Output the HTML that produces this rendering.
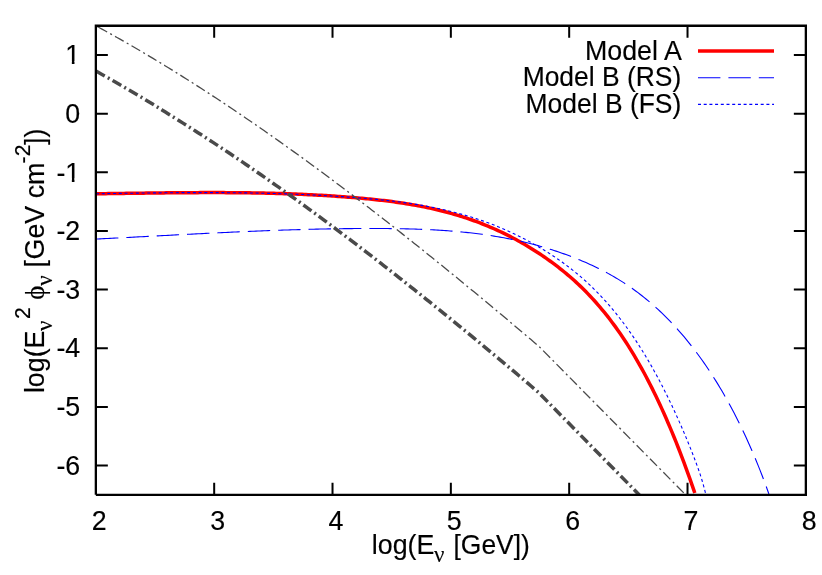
<!DOCTYPE html>
<html>
<head>
<meta charset="utf-8">
<title>plot</title>
<style>
html,body{margin:0;padding:0;background:#fff;}
body{width:822px;height:575px;overflow:hidden;}
svg{display:block;will-change:transform;}
text{font-family:"Liberation Sans",sans-serif;font-size:26.8px;fill:#000;stroke:#000;stroke-width:0.15px;}
.sym{font-family:"Liberation Serif",serif;stroke-width:0.15px;}
.s{font-size:21.2px;}
.n{font-size:23px;}
.b{font-size:26.45px;}
</style>
</head>
<body>
<svg width="822" height="575" viewBox="0 0 822 575">
<rect x="0" y="0" width="822" height="575" fill="#fff"/>
<defs><clipPath id="kp"><rect x="40" y="40.27" width="50" height="20.70"/><rect x="71.85" y="60.27" width="2.62" height="5"/></clipPath>
<clipPath id="km"><rect x="40" y="157.54" width="50" height="20.70"/><rect x="71.85" y="177.54" width="2.62" height="5"/></clipPath><clipPath id="c"><rect x="95.85" y="25.75" width="710.0" height="469.1"/></clipPath></defs>
<g fill="none" clip-path="url(#c)">
<path d="M96.00,193.75 L98.00,193.73 L100.00,193.70 L102.00,193.68 L104.00,193.66 L106.00,193.63 L108.00,193.61 L110.00,193.58 L112.00,193.56 L114.00,193.53 L116.00,193.50 L118.00,193.48 L120.00,193.45 L122.00,193.42 L124.00,193.40 L126.00,193.37 L128.00,193.34 L130.00,193.32 L132.00,193.29 L134.00,193.26 L136.00,193.24 L138.00,193.21 L140.00,193.18 L142.00,193.16 L144.00,193.13 L146.00,193.11 L148.00,193.08 L150.00,193.06 L152.00,193.03 L154.00,193.01 L156.00,192.98 L158.00,192.96 L160.00,192.94 L162.00,192.91 L164.00,192.89 L166.00,192.87 L168.00,192.85 L170.00,192.83 L172.00,192.81 L174.00,192.79 L176.00,192.77 L178.00,192.76 L180.00,192.74 L182.00,192.72 L184.00,192.71 L186.00,192.69 L188.00,192.68 L190.00,192.67 L192.00,192.66 L194.00,192.64 L196.00,192.64 L198.00,192.63 L200.00,192.62 L202.00,192.61 L204.00,192.61 L206.00,192.60 L208.00,192.60 L210.00,192.60 L212.00,192.60 L214.00,192.60 L216.00,192.60 L218.00,192.60 L220.00,192.61 L222.00,192.61 L224.00,192.62 L226.00,192.63 L228.00,192.64 L230.00,192.65 L232.00,192.67 L234.00,192.68 L236.00,192.70 L238.00,192.72 L240.00,192.74 L242.00,192.76 L244.00,192.78 L246.00,192.81 L248.00,192.84 L250.00,192.86 L252.00,192.89 L254.00,192.93 L256.00,192.96 L258.00,193.00 L260.00,193.04 L262.00,193.08 L264.00,193.12 L266.00,193.16 L268.00,193.21 L270.00,193.26 L272.00,193.31 L274.00,193.36 L276.00,193.42 L278.00,193.48 L280.00,193.53 L282.00,193.60 L284.00,193.66 L286.00,193.73 L288.00,193.80 L290.00,193.87 L292.00,193.94 L294.00,194.02 L296.00,194.10 L298.00,194.18 L300.00,194.26 L302.00,194.35 L304.00,194.44 L306.00,194.53 L308.00,194.63 L310.00,194.72 L312.00,194.82 L314.00,194.93 L316.00,195.03 L318.00,195.14 L320.00,195.25 L322.00,195.37 L324.00,195.48 L326.00,195.60 L328.00,195.73 L330.00,195.85 L332.00,195.98 L334.00,196.12 L336.00,196.25 L338.00,196.39 L340.00,196.53 L342.00,196.68 L344.00,196.82 L346.00,196.98 L348.00,197.13 L350.00,197.29 L352.00,197.45 L354.00,197.62 L356.00,197.78 L358.00,197.96 L360.00,198.13 L362.00,198.31 L364.00,198.49 L366.00,198.68 L368.00,198.88 L370.00,199.07 L372.00,199.27 L374.00,199.48 L376.00,199.69 L378.00,199.91 L380.00,200.14 L382.00,200.37 L384.00,200.60 L386.00,200.84 L388.00,201.09 L390.00,201.35 L392.00,201.61 L394.00,201.88 L396.00,202.15 L398.00,202.44 L400.00,202.73 L402.00,203.03 L404.00,203.34 L406.00,203.65 L408.00,203.98 L410.00,204.31 L412.00,204.65 L414.00,205.00 L416.00,205.36 L418.00,205.73 L420.00,206.11 L422.00,206.50 L424.00,206.90 L426.00,207.31 L428.00,207.73 L430.00,208.16 L432.00,208.60 L434.00,209.06 L436.00,209.52 L438.00,209.99 L440.00,210.48 L442.00,210.98 L444.00,211.49 L446.00,212.01 L448.00,212.55 L450.00,213.10 L452.00,213.66 L454.00,214.23 L456.00,214.82 L458.00,215.42 L460.00,216.03 L462.00,216.66 L464.00,217.30 L466.00,217.96 L468.00,218.63 L470.00,219.32 L472.00,220.02 L474.00,220.73 L476.00,221.46 L478.00,222.21 L480.00,222.97 L482.00,223.75 L484.00,224.54 L486.00,225.35 L488.00,226.18 L490.00,227.02 L492.00,227.88 L494.00,228.75 L496.00,229.65 L498.00,230.56 L500.00,231.49 L502.00,232.43 L504.00,233.40 L506.00,234.38 L508.00,235.38 L510.00,236.40 L512.00,237.44 L514.00,238.50 L516.00,239.57 L518.00,240.67 L520.00,241.78 L522.00,242.92 L524.00,244.07 L526.00,245.25 L528.00,246.44 L530.00,247.66 L532.00,248.90 L534.00,250.15 L536.00,251.43 L538.00,252.73 L540.00,254.05 L542.00,255.40 L544.00,256.76 L546.00,258.15 L548.00,259.56 L550.00,260.99 L552.00,262.45 L554.00,263.93 L556.00,265.44 L558.00,266.97 L560.00,268.53 L562.00,270.12 L564.00,271.74 L566.00,273.38 L568.00,275.06 L570.00,276.78 L572.00,278.53 L574.00,280.31 L576.00,282.13 L578.00,283.98 L580.00,285.87 L582.00,287.81 L584.00,289.78 L586.00,291.79 L588.00,293.85 L590.00,295.95 L592.00,298.09 L594.00,300.28 L596.00,302.51 L598.00,304.79 L600.00,307.13 L602.00,309.51 L604.00,311.94 L606.00,314.42 L608.00,316.95 L610.00,319.54 L612.00,322.19 L614.00,324.89 L616.00,327.64 L618.00,330.46 L620.00,333.33 L622.00,336.26 L624.00,339.26 L626.00,342.31 L628.00,345.43 L630.00,348.61 L632.00,351.86 L634.00,355.18 L636.00,358.56 L638.00,362.01 L640.00,365.53 L642.00,369.12 L644.00,372.78 L646.00,376.51 L648.00,380.32 L650.00,384.20 L652.00,388.16 L654.00,392.20 L656.00,396.31 L658.00,400.50 L660.00,404.77 L662.00,409.12 L664.00,413.56 L666.00,418.08 L668.00,422.68 L670.00,427.36 L672.00,432.13 L674.00,436.99 L676.00,441.94 L678.00,446.98 L680.00,452.10 L682.00,457.32 L684.00,462.63 L686.00,468.04 L688.00,473.54 L690.00,479.13 L692.00,484.82 L694.00,490.61 L694.80,492.95" stroke="#ff0000" stroke-width="3.5" stroke-linejoin="round"/>
<path d="M96.00,239.06 L98.00,238.97 L100.00,238.87 L102.00,238.77 L104.00,238.67 L106.00,238.56 L108.00,238.46 L110.00,238.36 L112.00,238.26 L114.00,238.16 L116.00,238.05 L118.00,237.95 L120.00,237.85 L122.00,237.75 L124.00,237.64 L126.00,237.54 L128.00,237.43 L130.00,237.33 L132.00,237.22 L134.00,237.12 L136.00,237.01 L138.00,236.91 L140.00,236.80 L142.00,236.70 L144.00,236.59 L146.00,236.49 L148.00,236.38 L150.00,236.28 L152.00,236.17 L154.00,236.07 L156.00,235.96 L158.00,235.86 L160.00,235.75 L162.00,235.65 L164.00,235.54 L166.00,235.44 L168.00,235.33 L170.00,235.23 L172.00,235.12 L174.00,235.02 L176.00,234.91 L178.00,234.81 L180.00,234.71 L182.00,234.60 L184.00,234.50 L186.00,234.40 L188.00,234.29 L190.00,234.19 L192.00,234.09 L194.00,233.99 L196.00,233.89 L198.00,233.79 L200.00,233.69 L202.00,233.59 L204.00,233.49 L206.00,233.39 L208.00,233.29 L210.00,233.19 L212.00,233.09 L214.00,233.00 L216.00,232.90 L218.00,232.80 L220.00,232.71 L222.00,232.61 L224.00,232.52 L226.00,232.43 L228.00,232.33 L230.00,232.24 L232.00,232.15 L234.00,232.06 L236.00,231.97 L238.00,231.88 L240.00,231.79 L242.00,231.70 L244.00,231.62 L246.00,231.53 L248.00,231.45 L250.00,231.36 L252.00,231.28 L254.00,231.19 L256.00,231.11 L258.00,231.03 L260.00,230.95 L262.00,230.87 L264.00,230.79 L266.00,230.72 L268.00,230.64 L270.00,230.57 L272.00,230.49 L274.00,230.42 L276.00,230.35 L278.00,230.28 L280.00,230.21 L282.00,230.14 L284.00,230.07 L286.00,230.01 L288.00,229.94 L290.00,229.88 L292.00,229.81 L294.00,229.75 L296.00,229.69 L298.00,229.63 L300.00,229.58 L302.00,229.52 L304.00,229.46 L306.00,229.41 L308.00,229.36 L310.00,229.31 L312.00,229.26 L314.00,229.21 L316.00,229.16 L318.00,229.12 L320.00,229.07 L322.00,229.03 L324.00,228.99 L326.00,228.95 L328.00,228.91 L330.00,228.88 L332.00,228.84 L334.00,228.81 L336.00,228.78 L338.00,228.75 L340.00,228.72 L342.00,228.69 L344.00,228.67 L346.00,228.64 L348.00,228.62 L350.00,228.60 L352.00,228.58 L354.00,228.57 L356.00,228.55 L358.00,228.54 L360.00,228.53 L362.00,228.52 L364.00,228.51 L366.00,228.51 L368.00,228.50 L370.00,228.50 L372.00,228.50 L374.00,228.50 L376.00,228.51 L378.00,228.51 L380.00,228.52 L382.00,228.53 L384.00,228.54 L386.00,228.56 L388.00,228.57 L390.00,228.59 L392.00,228.61 L394.00,228.64 L396.00,228.67 L398.00,228.70 L400.00,228.73 L402.00,228.77 L404.00,228.81 L406.00,228.85 L408.00,228.90 L410.00,228.95 L412.00,229.00 L414.00,229.06 L416.00,229.12 L418.00,229.19 L420.00,229.26 L422.00,229.34 L424.00,229.42 L426.00,229.50 L428.00,229.59 L430.00,229.69 L432.00,229.79 L434.00,229.89 L436.00,230.00 L438.00,230.12 L440.00,230.24 L442.00,230.37 L444.00,230.50 L446.00,230.64 L448.00,230.79 L450.00,230.94 L452.00,231.10 L454.00,231.26 L456.00,231.43 L458.00,231.61 L460.00,231.79 L462.00,231.99 L464.00,232.18 L466.00,232.39 L468.00,232.60 L470.00,232.82 L472.00,233.05 L474.00,233.29 L476.00,233.53 L478.00,233.78 L480.00,234.04 L482.00,234.31 L484.00,234.59 L486.00,234.87 L488.00,235.16 L490.00,235.46 L492.00,235.78 L494.00,236.09 L496.00,236.42 L498.00,236.76 L500.00,237.11 L502.00,237.46 L504.00,237.83 L506.00,238.21 L508.00,238.59 L510.00,238.99 L512.00,239.39 L514.00,239.81 L516.00,240.24 L518.00,240.67 L520.00,241.12 L522.00,241.58 L524.00,242.04 L526.00,242.52 L528.00,243.01 L530.00,243.52 L532.00,244.03 L534.00,244.55 L536.00,245.09 L538.00,245.64 L540.00,246.20 L542.00,246.77 L544.00,247.35 L546.00,247.95 L548.00,248.55 L550.00,249.17 L552.00,249.81 L554.00,250.45 L556.00,251.11 L558.00,251.78 L560.00,252.47 L562.00,253.16 L564.00,253.87 L566.00,254.60 L568.00,255.34 L570.00,256.09 L572.00,256.85 L574.00,257.63 L576.00,258.42 L578.00,259.23 L580.00,260.05 L582.00,260.89 L584.00,261.74 L586.00,262.61 L588.00,263.49 L590.00,264.39 L592.00,265.31 L594.00,266.25 L596.00,267.21 L598.00,268.18 L600.00,269.18 L602.00,270.20 L604.00,271.24 L606.00,272.29 L608.00,273.38 L610.00,274.48 L612.00,275.61 L614.00,276.76 L616.00,277.94 L618.00,279.14 L620.00,280.37 L622.00,281.63 L624.00,282.91 L626.00,284.22 L628.00,285.56 L630.00,286.92 L632.00,288.32 L634.00,289.74 L636.00,291.20 L638.00,292.68 L640.00,294.20 L642.00,295.75 L644.00,297.33 L646.00,298.95 L648.00,300.60 L650.00,302.28 L652.00,304.00 L654.00,305.76 L656.00,307.55 L658.00,309.37 L660.00,311.24 L662.00,313.14 L664.00,315.08 L666.00,317.06 L668.00,319.08 L670.00,321.14 L672.00,323.24 L674.00,325.38 L676.00,327.57 L678.00,329.79 L680.00,332.06 L682.00,334.37 L684.00,336.73 L686.00,339.13 L688.00,341.57 L690.00,344.07 L692.00,346.61 L694.00,349.19 L696.00,351.83 L698.00,354.51 L700.00,357.25 L702.00,360.04 L704.00,362.88 L706.00,365.78 L708.00,368.73 L710.00,371.74 L712.00,374.81 L714.00,377.95 L716.00,381.14 L718.00,384.39 L720.00,387.71 L722.00,391.09 L724.00,394.54 L726.00,398.06 L728.00,401.65 L730.00,405.30 L732.00,409.03 L734.00,412.83 L736.00,416.70 L738.00,420.65 L740.00,424.68 L742.00,428.80 L744.00,433.00 L746.00,437.29 L748.00,441.68 L750.00,446.16 L752.00,450.75 L754.00,455.43 L756.00,460.23 L758.00,465.14 L760.00,470.16 L762.00,475.30 L764.00,480.56 L766.00,485.94 L768.00,491.45 L768.90,493.98" stroke="#0000ff" stroke-width="1.1" stroke-dasharray="22.4 8"/>
<path d="M96.00,193.81 L98.00,193.77 L100.00,193.74 L102.00,193.70 L104.00,193.67 L106.00,193.63 L108.00,193.60 L110.00,193.56 L112.00,193.53 L114.00,193.49 L116.00,193.46 L118.00,193.43 L120.00,193.39 L122.00,193.36 L124.00,193.33 L126.00,193.29 L128.00,193.26 L130.00,193.23 L132.00,193.20 L134.00,193.17 L136.00,193.14 L138.00,193.11 L140.00,193.08 L142.00,193.05 L144.00,193.03 L146.00,193.00 L148.00,192.97 L150.00,192.95 L152.00,192.92 L154.00,192.90 L156.00,192.87 L158.00,192.85 L160.00,192.83 L162.00,192.81 L164.00,192.79 L166.00,192.77 L168.00,192.75 L170.00,192.73 L172.00,192.72 L174.00,192.70 L176.00,192.68 L178.00,192.67 L180.00,192.66 L182.00,192.64 L184.00,192.63 L186.00,192.62 L188.00,192.61 L190.00,192.61 L192.00,192.60 L194.00,192.59 L196.00,192.59 L198.00,192.58 L200.00,192.58 L202.00,192.58 L204.00,192.58 L206.00,192.58 L208.00,192.58 L210.00,192.59 L212.00,192.59 L214.00,192.60 L216.00,192.61 L218.00,192.61 L220.00,192.63 L222.00,192.64 L224.00,192.65 L226.00,192.66 L228.00,192.68 L230.00,192.70 L232.00,192.72 L234.00,192.74 L236.00,192.76 L238.00,192.78 L240.00,192.81 L242.00,192.84 L244.00,192.86 L246.00,192.89 L248.00,192.93 L250.00,192.96 L252.00,192.99 L254.00,193.03 L256.00,193.07 L258.00,193.11 L260.00,193.15 L262.00,193.20 L264.00,193.24 L266.00,193.29 L268.00,193.34 L270.00,193.39 L272.00,193.44 L274.00,193.50 L276.00,193.56 L278.00,193.61 L280.00,193.68 L282.00,193.74 L284.00,193.80 L286.00,193.87 L288.00,193.94 L290.00,194.01 L292.00,194.09 L294.00,194.16 L296.00,194.24 L298.00,194.32 L300.00,194.40 L302.00,194.49 L304.00,194.57 L306.00,194.66 L308.00,194.75 L310.00,194.84 L312.00,194.94 L314.00,195.04 L316.00,195.14 L318.00,195.24 L320.00,195.35 L322.00,195.45 L324.00,195.56 L326.00,195.68 L328.00,195.79 L330.00,195.91 L332.00,196.03 L334.00,196.15 L336.00,196.28 L338.00,196.40 L340.00,196.53 L342.00,196.67 L344.00,196.80 L346.00,196.94 L348.00,197.08 L350.00,197.23 L352.00,197.37 L354.00,197.52 L356.00,197.67 L358.00,197.83 L360.00,197.99 L362.00,198.15 L364.00,198.31 L366.00,198.48 L368.00,198.65 L370.00,198.83 L372.00,199.01 L374.00,199.19 L376.00,199.38 L378.00,199.57 L380.00,199.77 L382.00,199.97 L384.00,200.18 L386.00,200.40 L388.00,200.62 L390.00,200.84 L392.00,201.07 L394.00,201.31 L396.00,201.55 L398.00,201.80 L400.00,202.06 L402.00,202.33 L404.00,202.60 L406.00,202.87 L408.00,203.16 L410.00,203.45 L412.00,203.76 L414.00,204.06 L416.00,204.38 L418.00,204.71 L420.00,205.04 L422.00,205.38 L424.00,205.74 L426.00,206.10 L428.00,206.47 L430.00,206.85 L432.00,207.24 L434.00,207.64 L436.00,208.05 L438.00,208.46 L440.00,208.89 L442.00,209.33 L444.00,209.79 L446.00,210.25 L448.00,210.72 L450.00,211.21 L452.00,211.70 L454.00,212.21 L456.00,212.73 L458.00,213.26 L460.00,213.80 L462.00,214.36 L464.00,214.93 L466.00,215.51 L468.00,216.10 L470.00,216.71 L472.00,217.33 L474.00,217.97 L476.00,218.61 L478.00,219.28 L480.00,219.95 L482.00,220.64 L484.00,221.35 L486.00,222.07 L488.00,222.80 L490.00,223.55 L492.00,224.31 L494.00,225.09 L496.00,225.89 L498.00,226.70 L500.00,227.52 L502.00,228.37 L504.00,229.22 L506.00,230.10 L508.00,230.99 L510.00,231.90 L512.00,232.82 L514.00,233.77 L516.00,234.73 L518.00,235.70 L520.00,236.70 L522.00,237.71 L524.00,238.74 L526.00,239.79 L528.00,240.86 L530.00,241.95 L532.00,243.05 L534.00,244.18 L536.00,245.32 L538.00,246.48 L540.00,247.67 L542.00,248.87 L544.00,250.09 L546.00,251.33 L548.00,252.59 L550.00,253.88 L552.00,255.18 L554.00,256.51 L556.00,257.86 L558.00,259.23 L560.00,260.63 L562.00,262.05 L564.00,263.50 L566.00,264.98 L568.00,266.48 L570.00,268.02 L572.00,269.58 L574.00,271.18 L576.00,272.81 L578.00,274.47 L580.00,276.16 L582.00,277.89 L584.00,279.65 L586.00,281.45 L588.00,283.29 L590.00,285.17 L592.00,287.08 L594.00,289.04 L596.00,291.03 L598.00,293.07 L600.00,295.15 L602.00,297.27 L604.00,299.44 L606.00,301.65 L608.00,303.91 L610.00,306.22 L612.00,308.57 L614.00,310.97 L616.00,313.43 L618.00,315.93 L620.00,318.48 L622.00,321.09 L624.00,323.75 L626.00,326.47 L628.00,329.23 L630.00,332.06 L632.00,334.94 L634.00,337.88 L636.00,340.88 L638.00,343.94 L640.00,347.06 L642.00,350.24 L644.00,353.48 L646.00,356.78 L648.00,360.15 L650.00,363.58 L652.00,367.08 L654.00,370.65 L656.00,374.28 L658.00,377.98 L660.00,381.75 L662.00,385.59 L664.00,389.49 L666.00,393.47 L668.00,397.52 L670.00,401.64 L672.00,405.84 L674.00,410.11 L676.00,414.45 L678.00,418.87 L680.00,423.37 L682.00,427.94 L684.00,432.60 L686.00,437.35 L688.00,442.19 L690.00,447.13 L692.00,452.17 L694.00,457.33 L696.00,462.61 L698.00,468.09 L700.00,473.92 L702.00,480.28 L704.00,487.31 L705.60,493.52" stroke="#0000ff" stroke-width="1.1" stroke-dasharray="3 2.7"/>
<path d="M96.00,71.07 L99.00,72.74 L102.00,74.42 L105.00,76.11 L108.00,77.80 L111.00,79.51 L114.00,81.22 L117.00,82.95 L120.00,84.68 L123.00,86.43 L126.00,88.18 L129.00,89.94 L132.00,91.71 L135.00,93.49 L138.00,95.28 L141.00,97.08 L144.00,98.89 L147.00,100.70 L150.00,102.53 L153.00,104.36 L156.00,106.20 L159.00,108.06 L162.00,109.92 L165.00,111.78 L168.00,113.66 L171.00,115.55 L174.00,117.44 L177.00,119.34 L180.00,121.25 L183.00,123.13 L186.00,125.02 L189.00,126.92 L192.00,128.82 L195.00,130.74 L198.00,132.66 L201.00,134.59 L204.00,136.53 L207.00,138.47 L210.00,140.42 L213.00,142.39 L216.00,144.36 L219.00,146.33 L222.00,148.32 L225.00,150.31 L228.00,152.31 L231.00,154.32 L234.00,156.33 L237.00,158.36 L240.00,160.39 L243.00,162.42 L246.00,164.47 L249.00,166.52 L252.00,168.58 L255.00,170.65 L258.00,172.72 L261.00,174.81 L264.00,176.89 L267.00,178.99 L270.00,181.09 L273.00,183.20 L276.00,185.32 L279.00,187.44 L282.00,189.57 L285.00,191.71 L288.00,193.86 L291.00,196.01 L294.00,198.17 L297.00,200.33 L300.00,202.50 L303.00,204.68 L306.00,206.86 L309.00,209.05 L312.00,211.25 L315.00,213.45 L318.00,215.66 L321.00,217.88 L324.00,220.10 L327.00,222.33 L330.00,224.56 L333.00,226.80 L336.00,229.05 L339.00,231.30 L342.00,233.56 L345.00,235.83 L348.00,238.10 L351.00,240.37 L354.00,242.66 L357.00,244.94 L360.00,247.24 L363.00,249.54 L366.00,251.84 L369.00,254.15 L372.00,256.47 L375.00,258.79 L378.00,261.11 L381.00,263.45 L384.00,265.78 L387.00,268.13 L390.00,270.47 L393.00,272.83 L396.00,275.18 L399.00,277.55 L402.00,279.92 L405.00,282.29 L408.00,284.67 L411.00,287.05 L414.00,289.44 L417.00,291.83 L420.00,294.23 L423.00,296.63 L426.00,299.04 L429.00,301.45 L432.00,303.87 L435.00,306.29 L438.00,308.71 L441.00,311.14 L444.00,313.58 L447.00,316.02 L450.00,318.46 L453.00,320.91 L456.00,323.36 L459.00,325.81 L462.00,328.27 L465.00,330.74 L468.00,333.20 L471.00,335.68 L474.00,338.15 L477.00,340.63 L480.00,343.12 L483.00,345.60 L486.00,348.09 L489.00,350.59 L492.00,353.09 L495.00,355.59 L498.00,358.10 L501.00,360.61 L504.00,363.12 L507.00,365.64 L510.00,368.16 L513.00,370.68 L516.00,373.21 L519.00,375.74 L522.00,378.29 L525.00,380.86 L528.00,383.43 L531.00,386.01 L534.00,388.59 L537.00,391.17 L538.70,392.64 L685.50,541.90" stroke="#4a4a4a" stroke-width="3.5" stroke-dasharray="10 3.5 2 3.5"/>
<path d="M96.00,25.87 L99.00,27.50 L102.00,29.14 L105.00,30.79 L108.00,32.45 L111.00,34.11 L114.00,35.79 L117.00,37.47 L120.00,39.17 L123.00,40.87 L126.00,42.59 L129.00,44.31 L132.00,46.04 L135.00,47.78 L138.00,49.53 L141.00,51.29 L144.00,53.06 L147.00,54.83 L150.00,56.62 L153.00,58.41 L156.00,60.22 L159.00,62.03 L162.00,63.85 L165.00,65.68 L168.00,67.52 L171.00,69.36 L174.00,71.22 L177.00,73.08 L180.00,74.95 L183.00,76.83 L186.00,78.72 L189.00,80.62 L192.00,82.52 L195.00,84.44 L198.00,86.36 L201.00,88.29 L204.00,90.23 L207.00,92.17 L210.00,94.12 L213.00,96.09 L216.00,98.06 L219.00,100.03 L222.00,102.02 L225.00,104.01 L228.00,106.01 L231.00,108.02 L234.00,110.03 L237.00,112.06 L240.00,114.09 L243.00,116.12 L246.00,118.17 L249.00,120.22 L252.00,122.28 L255.00,124.35 L258.00,126.42 L261.00,128.51 L264.00,130.59 L267.00,132.69 L270.00,134.79 L273.00,136.90 L276.00,139.02 L279.00,141.14 L282.00,143.27 L285.00,145.41 L288.00,147.56 L291.00,149.71 L294.00,151.87 L297.00,154.03 L300.00,156.20 L303.00,158.38 L306.00,160.56 L309.00,162.75 L312.00,164.95 L315.00,167.15 L318.00,169.36 L321.00,171.58 L324.00,173.80 L327.00,176.03 L330.00,178.26 L333.00,180.50 L336.00,182.75 L339.00,185.00 L342.00,187.26 L345.00,189.53 L348.00,191.80 L351.00,194.07 L354.00,196.36 L357.00,198.64 L360.00,200.94 L363.00,203.24 L366.00,205.54 L369.00,207.85 L372.00,210.17 L375.00,212.49 L378.00,214.81 L381.00,217.15 L384.00,219.48 L387.00,221.83 L390.00,224.17 L393.00,226.53 L396.00,228.88 L399.00,231.25 L402.00,233.62 L405.00,235.99 L408.00,238.37 L411.00,240.75 L414.00,243.14 L417.00,245.53 L420.00,247.93 L423.00,250.33 L426.00,252.74 L429.00,255.15 L432.00,257.57 L435.00,259.99 L438.00,262.41 L441.00,264.84 L444.00,267.28 L447.00,269.72 L450.00,272.16 L453.00,274.61 L456.00,277.06 L459.00,279.51 L462.00,281.97 L465.00,284.44 L468.00,286.90 L471.00,289.38 L474.00,291.85 L477.00,294.33 L480.00,296.82 L483.00,299.30 L486.00,301.79 L489.00,304.29 L492.00,306.79 L495.00,309.29 L498.00,311.80 L501.00,314.31 L504.00,316.82 L507.00,319.34 L510.00,321.86 L513.00,324.38 L516.00,326.91 L519.00,329.44 L522.00,331.97 L525.00,334.51 L528.00,337.04 L531.00,339.59 L534.00,342.13 L537.00,344.68 L538.70,346.13 L685.50,494.70" stroke="#4a4a4a" stroke-width="1.3" stroke-dasharray="10 3.5 2 3.5" stroke-dashoffset="-2.7"/>
<path d="M96,25.8 l2.4,1.45" stroke="#4a4a4a" stroke-width="1.3"/>
</g>
<g fill="none" stroke="#000" stroke-width="2">
<path d="M214.18,494.85 V482.85 M214.18,25.75 V37.75 M332.52,494.85 V482.85 M332.52,25.75 V37.75 M450.85,494.85 V482.85 M450.85,25.75 V37.75 M569.18,494.85 V482.85 M569.18,25.75 V37.75 M687.52,494.85 V482.85 M687.52,25.75 V37.75 M95.85,55.07 H107.85 M805.85,55.07 H793.85 M95.85,113.71 H107.85 M805.85,113.71 H793.85 M95.85,172.34 H107.85 M805.85,172.34 H793.85 M95.85,230.98 H107.85 M805.85,230.98 H793.85 M95.85,289.62 H107.85 M805.85,289.62 H793.85 M95.85,348.26 H107.85 M805.85,348.26 H793.85 M95.85,406.89 H107.85 M805.85,406.89 H793.85 M95.85,465.53 H107.85 M805.85,465.53 H793.85"/>
</g>
<path d="M95.85,494.85 V25.75 H805.85 V494.85 H95.85" fill="none" stroke="#000" stroke-width="2.3" stroke-linejoin="miter"/>
<g>
<text transform="translate(99.25,530.40) scale(1,1.02)" text-anchor="middle">2</text>
<text transform="translate(217.58,530.40) scale(1,1.02)" text-anchor="middle">3</text>
<text transform="translate(335.92,530.40) scale(1,1.02)" text-anchor="middle">4</text>
<text transform="translate(454.25,530.40) scale(1,1.02)" text-anchor="middle">5</text>
<text transform="translate(572.58,530.40) scale(1,1.02)" text-anchor="middle">6</text>
<text transform="translate(690.92,530.40) scale(1,1.02)" text-anchor="middle">7</text>
<text transform="translate(809.25,530.40) scale(1,1.02)" text-anchor="middle">8</text>
<g clip-path="url(#kp)"><text transform="translate(80.20,64.27) scale(1,1.02)" text-anchor="end">1</text></g>
<text transform="translate(80.20,122.91) scale(1,1.02)" text-anchor="end">0</text>
<g clip-path="url(#km)"><text transform="translate(80.20,181.54) scale(1,1.02)" text-anchor="end">-1</text></g>
<text transform="translate(80.20,240.18) scale(1,1.02)" text-anchor="end">-2</text>
<text transform="translate(80.20,298.82) scale(1,1.02)" text-anchor="end">-3</text>
<text transform="translate(80.20,357.46) scale(1,1.02)" text-anchor="end">-4</text>
<text transform="translate(80.20,416.09) scale(1,1.02)" text-anchor="end">-5</text>
<text transform="translate(80.20,474.73) scale(1,1.02)" text-anchor="end">-6</text>
</g>
<g>
<text transform="translate(681.80,59.50) scale(1,1.04)" text-anchor="end">Model A</text>
<text transform="translate(681.30,86.20) scale(1,1.04)" text-anchor="end" class="b">Model B (RS)</text>
<text transform="translate(681.30,112.80) scale(1,1.04)" text-anchor="end" class="b">Model B (FS)</text>
<path d="M698,51 H774" stroke="#ff0000" stroke-width="3.5" fill="none"/>
<path d="M698,77.7 H774" stroke="#0000ff" stroke-width="1.1" stroke-dasharray="22.4 8" fill="none"/>
<path d="M698,104.4 H774" stroke="#0000ff" stroke-width="1.1" stroke-dasharray="3 2.7" fill="none"/>
</g>
<g>
<text transform="translate(371.80,554.40) scale(1,1.04)">log(E</text>
<text transform="translate(434.00,562.40) scale(1,1.0)" class="sym n">&#957;</text>
<text transform="translate(453.50,554.40) scale(1,1.04)" class="b">[GeV])</text>
</g>
<g transform="translate(43.6,392.4) rotate(-90)">
<text transform="translate(-0.70,0.00) scale(1,1.04)">log(E</text>
<text transform="translate(61.40,8.60) scale(1,1.0)" class="sym n">&#957;</text>
<text transform="translate(73.40,-13.80) scale(1,1.04)" class="s">2</text>
<text transform="translate(92.60,0.00) scale(1,1.0)" class="sym">&#981;</text>
<text transform="translate(106.70,8.60) scale(1,1.0)" class="sym n">&#957;</text>
<text transform="translate(124.80,0.00) scale(1,1.04)">[</text>
<text transform="translate(133.00,0.00) scale(1,1.04)">GeV cm</text>
<text transform="translate(229.00,-13.80) scale(1,1.04)" class="s">-2</text>
<text transform="translate(247.40,0.00) scale(1,1.04)">])</text>
</g>
</svg>
</body>
</html>
